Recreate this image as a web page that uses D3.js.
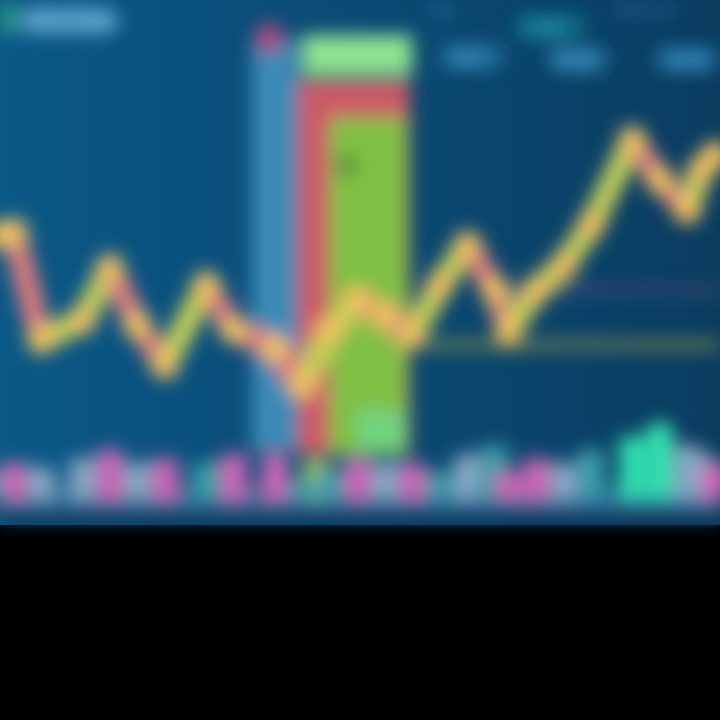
<!DOCTYPE html>
<html><head><meta charset="utf-8">
<script src="https://cdn.jsdelivr.net/npm/d3@7"></script>
<style>html,body{margin:0;padding:0;background:#000;}svg{display:block;}</style>
</head><body>
<svg id="c" width="720" height="720"></svg>
<script>
// ---- data ----
const days = [0, 1, 3, 6, 8, 10, 12, 15, 17, 20, 22, 24, 26, 28, 30, 32, 34, 36, 37, 39, 41, 43, 46, 48, 50, 51, 52];
const prices = [57, 57.6, 36, 40, 50.4, 39, 31, 47, 38, 34.4, 27, 38, 44, 41, 37, 47, 55, 46, 38, 46, 51, 59, 76, 68, 62, 70, 73];
const volumes = [3, 4, 3.5, 4.5, 5.5, 4, 4.5, 4, 5, 5, 2, 3, 4.5, 4, 4, 3, 5, 6, 3, 4.5, 4, 5.5, 7, 8.5, 6, 5, 4];
const volColors = ["teal","pink","light","light","pink","light","pink","teal","pink","pink","teal","teal","pink","light","pink","teal","light","teal","pink","pink","light","teal","mint","mint","light","light","pink"];
const headerLabels = ["BTC/USD", "1D", "24h", "Vol", "High", "Low", "Market"];

const svg = d3.select("#c");
const W = 720, H = 525;

const defs = svg.append("defs");
const g = defs.append("linearGradient").attr("id","bg").attr("x1","0").attr("x2","1").attr("y1","0").attr("y2","0");
g.append("stop").attr("offset","0").attr("stop-color","#0a5886");
g.append("stop").attr("offset","0.5").attr("stop-color","#0a4a74");
g.append("stop").attr("offset","1").attr("stop-color","#0a3c60");
const blur = defs.append("filter").attr("id","bl").attr("x","-20%").attr("y","-20%").attr("width","140%").attr("height","140%");
blur.append("feGaussianBlur").attr("stdDeviation","9");

svg.append("rect").attr("width",720).attr("height",720).attr("fill","#000");
svg.append("rect").attr("width",W).attr("height",H).attr("fill","url(#bg)");

const x = d3.scaleLinear().domain([0, 52]).range([0, 715]);
const y = d3.scaleLinear().domain([0, 100]).range([520, 20]);
const yv = d3.scaleLinear().domain([0, 10]).range([498, 410]);

const layer = svg.append("g").attr("filter","url(#bl)");

// bottom strip
layer.append("rect").attr("x",0).attr("y",486).attr("width",W).attr("height",30).attr("fill","#2a6a9a");
layer.append("rect").attr("x",0).attr("y",512).attr("width",W).attr("height",13).attr("fill","#0a2a48");

// highlight band
layer.append("rect").attr("x",x(18.3)).attr("y",y(96)).attr("width",x(21.7)-x(18.3)).attr("height",y(14)-y(96)).attr("fill","#3a8ab6");
layer.append("circle").attr("cx",x(19.6)).attr("cy",y(100)+18).attr("r",15).attr("fill","#a44a82");
layer.append("rect").attr("x",x(21.7)).attr("y",y(88)).attr("width",x(29.8)-x(21.7)).attr("height",y(13)-y(88)).attr("fill","#cc5a66");
layer.append("rect").attr("x",x(24)).attr("y",y(80.5)).attr("width",x(29.6)-x(24)).attr("height",y(13)-y(80.5)).attr("fill","#80c044");
layer.append("rect").attr("x",x(26)).attr("y",y(22)).attr("width",x(29.4)-x(26)).attr("height",y(14)-y(22)).attr("fill","#70d480");
layer.append("rect").attr("x",x(22)).attr("y",y(97)).attr("width",x(30)-x(22)).attr("height",y(89)-y(97)).attr("fill","#8ee490");
layer.append("circle").attr("cx",x(25.2)).attr("cy",y(71)).attr("r",11).attr("fill","#5a9040");
layer.append("rect").attr("x",x(22)).attr("y",y(12)).attr("width",x(24)-x(22)).attr("height",y(4)-y(12)).attr("fill","#9ac060");

// reference lines
layer.append("line").attr("x1",x(31)).attr("x2",W).attr("y1",y(35)).attr("y2",y(35)).attr("stroke","#7a8a50").attr("stroke-width",8);
layer.append("line").attr("x1",x(37)).attr("x2",W).attr("y1",y(46)).attr("y2",y(46)).attr("stroke","#4a4a7a").attr("stroke-width",6);

// volume bars
const vc = {teal:"#3a9eaa", pink:"#cc66b6", light:"#86a8c4", mint:"#30e0b0"};
layer.selectAll("rect.v").data(volumes).join("rect").attr("class","v")
  .attr("x",(d,i)=>x(days[i])-13).attr("width",26)
  .attr("y",d=>yv(d)).attr("height",d=>yv(0)-yv(d))
  .attr("fill",(d,i)=>vc[volColors[i]]);

// price segments
const pts = prices.map((p,i)=>({d:days[i],p}));
const segs = d3.pairs(pts);
layer.selectAll("line.s").data(segs).join("line").attr("class","s")
  .attr("x1",d=>x(d[0].d)).attr("y1",d=>y(d[0].p))
  .attr("x2",d=>x(d[1].d)).attr("y2",d=>y(d[1].p))
  .attr("stroke",d=>d[1].p>=d[0].p ? "#c4d058" : "#dc7a7c")
  .attr("stroke-width",24).attr("stroke-linecap","round");
layer.selectAll("circle.n").data(pts).join("circle").attr("class","n")
  .attr("cx",d=>x(d.d)).attr("cy",d=>y(d.p)).attr("r",14).attr("fill","#f0c060");

// header text
const ht = svg.append("g").attr("filter","url(#bl)").attr("font-family","DejaVu Sans").attr("font-weight","bold");
ht.append("rect").attr("x",0).attr("y",4).attr("width",18).attr("height",30).attr("fill","#2a9a8a");
ht.append("rect").attr("x",22).attr("y",6).attr("width",92).attr("height",28).attr("rx",10).attr("fill","#3e8cb8");
ht.append("rect").attr("x",440).attr("y",44).attr("width",64).attr("height",26).attr("rx",10).attr("fill","#1c6a98");
ht.append("rect").attr("x",548).attr("y",46).attr("width",60).attr("height",26).attr("rx",10).attr("fill","#1c6a98");
ht.append("rect").attr("x",656).attr("y",46).attr("width",62).attr("height",26).attr("rx",10).attr("fill","#1c6a98");
ht.append("rect").attr("x",515).attr("y",14).attr("width",70).attr("height",26).attr("rx",10).attr("fill","#0e6a84");
ht.append("text").attr("x",26).attr("y",29).attr("font-size",19).attr("fill","#7cc4e4").text(headerLabels[0]);
ht.append("text").attr("x",430).attr("y",16).attr("font-size",15).attr("fill","#2a7aa8").text(headerLabels[1]);
ht.append("text").attr("x",528).attr("y",34).attr("font-size",18).attr("fill","#2aa0b8").text(headerLabels[2]);
ht.append("text").attr("x",452).attr("y",64).attr("font-size",18).attr("fill","#4a9ed0").text(headerLabels[3]);
ht.append("text").attr("x",554).attr("y",66).attr("font-size",17).attr("fill","#4a9ed0").text(headerLabels[4]);
ht.append("text").attr("x",666).attr("y",66).attr("font-size",18).attr("fill","#4a9ed0").text(headerLabels[5]);
ht.append("text").attr("x",615).attr("y",16).attr("font-size",15).attr("fill","#2a6a98").text(headerLabels[6]);
</script>
</body></html>
